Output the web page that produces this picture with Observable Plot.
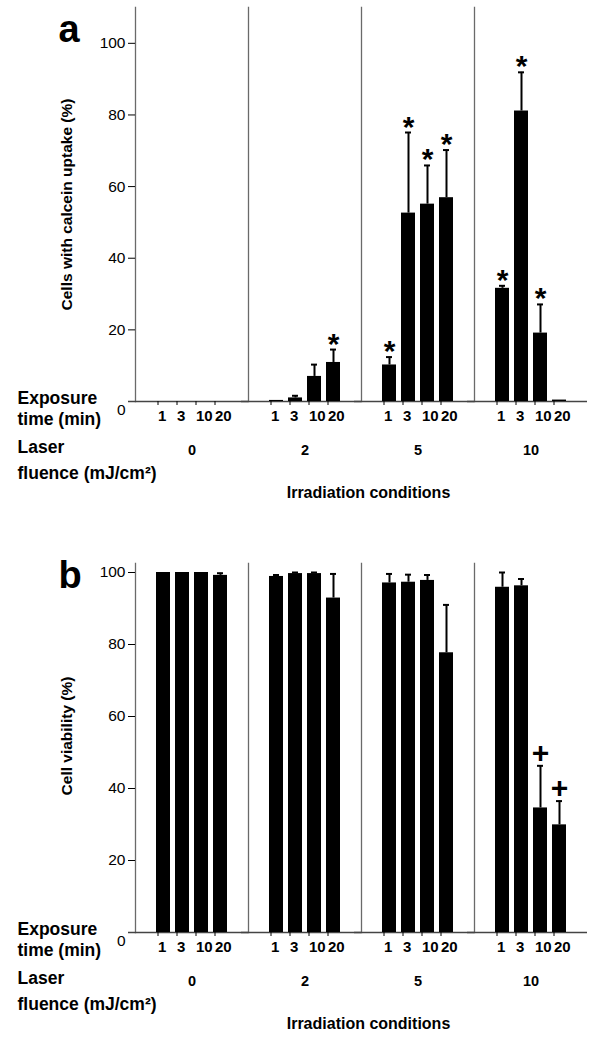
<!DOCTYPE html>
<html>
<head>
<meta charset="utf-8">
<script src="https://cdn.jsdelivr.net/npm/d3@7"></script>
<script src="https://cdn.jsdelivr.net/npm/@observablehq/plot@0.6"></script>
<style>
  body { margin: 0; background: #fff; }
  #chart svg { display: block; }
</style>
</head>
<body>
<div id="chart"></div>
<script>
// ---- data ----
const fluences = ["0", "2", "5", "10"];          // laser fluence (mJ/cm2)
const times = ["1", "3", "10", "20"];            // exposure time (min)
const yTicks = [20, 40, 60, 80, 100];

// panel a: cells with calcein uptake (%)
const uptakeMean   = [0, 0, 0, 0,   0.3, 1.0, 7.0, 10.9,   10.2, 52.6, 55.1, 56.9,   31.6, 81.1, 19.1, 0.4];
const uptakeErrTop = [0, 0, 0, 0,   0.3, 1.6, 10.3, 14.5,  12.4, 75.1, 65.9, 70.2,   32.3, 91.9, 27.1, 0.4];
const uptakeSig    = ["", "", "", "", "", "", "", "*", "*", "*", "*", "*", "*", "*", "*", ""];

// panel b: cell viability (%)
const viabilityMean   = [100, 100, 100, 99.2,  98.9, 99.7, 99.7, 92.9,  97.1, 97.3, 97.8, 77.7,  95.9, 96.3, 34.6, 29.9];
const viabilityErrTop = [100, 100, 100, 99.8,  99.3, 100, 100, 99.6,    99.6, 99.4, 99.3, 91.0,  100, 98.2, 46.3, 36.5];
const viabilitySig    = ["", "", "", "", "", "", "", "", "", "", "", "", "", "", "+", "+"];

const font = "'Liberation Sans', Arial, Helvetica, sans-serif";

function rowsFrom(means, tops, sig) {
  return means.map((v, i) => ({
    fluence: fluences[Math.floor(i / 4)],
    time: times[i % 4],
    value: v,
    top: tops[i],
    sig: sig[i]
  }));
}

function panel({rows, yMax, height, marginTop, marginBottom, yLabel, titleDy, letter, letterDy, sigSize, sigDy}) {
  const first = [{fluence: fluences[0]}];
  const mid = [{fluence: fluences[2]}];
  const err = rows.filter(d => d.top > d.value);
  return Plot.plot({
    width: 590,
    height,
    marginTop,
    marginBottom,
    marginLeft: 135,
    marginRight: 3,
    style: {fontFamily: font, background: "#fff", color: "#000", overflow: "visible"},
    fx: {domain: fluences, padding: 0, axis: null},
    x: {domain: times, paddingInner: 0.237, paddingOuter: 1.09},
    y: {domain: [0, yMax]},
    marks: [
      Plot.frame({anchor: "left", stroke: "#6a6a6a", strokeWidth: 1.3}),
      Plot.ruleY([0], {stroke: "#444", strokeWidth: 1.3, insetLeft: -7}),
      Plot.barY(rows, {fx: "fluence", x: "time", y: "value", fill: "#000"}),
      Plot.ruleX(err, {fx: "fluence", x: "time", y1: "value", y2: "top", stroke: "#000", strokeWidth: 2}),
      Plot.tickY(err, {fx: "fluence", x: "time", y: "top", stroke: "#000", strokeWidth: 2, insetLeft: 4, insetRight: 4}),
      Plot.text(rows.filter(d => d.sig), {fx: "fluence", x: "time", y: "top", text: "sig",
        lineAnchor: "bottom", dy: sigDy, fontSize: sigSize, fontWeight: "bold"}),
      Plot.axisY({ticks: yTicks, tickSize: 7, tickPadding: 3, fontSize: 15.5, label: null}),
      Plot.axisY({ticks: [0], tickSize: 0, tickPadding: 10, dy: 9, fontSize: 15.5, label: null}),
      Plot.axisX({tickSize: 4, tickPadding: 5, fontSize: 15, fontWeight: "bold", textAnchor: "start", dx: -5.5, label: null}),
      Plot.text(fluences, {fx: d => d, text: d => d, frameAnchor: "bottom", lineAnchor: "bottom",
        dy: 53, fontSize: 14.5, fontWeight: "bold"}),
      // y-axis title
      Plot.text(first, {fx: "fluence", text: () => yLabel, frameAnchor: "left", textAnchor: "middle", rotate: -90,
        dx: -68, dy: titleDy, fontSize: 15.5, fontWeight: "bold"}),
      // panel letter
      Plot.text(first, {fx: "fluence", text: () => letter, frameAnchor: "top-left", textAnchor: "start",
        lineAnchor: "bottom", dx: -77, dy: letterDy, fontSize: 38, fontWeight: "bold"}),
      // row labels
      Plot.text(first, {fx: "fluence", text: () => "Exposure", frameAnchor: "bottom-left", textAnchor: "start",
        lineAnchor: "bottom", dx: -118, dy: 2, fontSize: 17.5, fontWeight: "bold"}),
      Plot.text(first, {fx: "fluence", text: () => "time (min)", frameAnchor: "bottom-left", textAnchor: "start",
        lineAnchor: "bottom", dx: -118, dy: 23, fontSize: 17.5, fontWeight: "bold"}),
      Plot.text(first, {fx: "fluence", text: () => "Laser", frameAnchor: "bottom-left", textAnchor: "start",
        lineAnchor: "bottom", dx: -118, dy: 51, fontSize: 17.5, fontWeight: "bold"}),
      Plot.text(first, {fx: "fluence", text: () => "fluence (mJ/cm²)", frameAnchor: "bottom-left", textAnchor: "start",
        lineAnchor: "bottom", dx: -118, dy: 77, fontSize: 17.5, fontWeight: "bold"}),
      Plot.text(mid, {fx: "fluence", text: () => "Irradiation conditions", frameAnchor: "bottom-left",
        textAnchor: "middle", lineAnchor: "bottom", dx: 7, dy: 96, fontSize: 16, fontWeight: "bold"})
    ]
  });
}

const chart = document.getElementById("chart");
chart.append(panel({
  rows: rowsFrom(uptakeMean, uptakeErrTop, uptakeSig),
  yMax: 110, height: 515, marginTop: 7, marginBottom: 114,
  yLabel: "Cells with calcein uptake (%)", titleDy: 0, letter: "a", letterDy: 34,
  sigSize: 30, sigDy: 4
}));
chart.append(panel({
  rows: rowsFrom(viabilityMean, viabilityErrTop, viabilitySig),
  yMax: 102.5, height: 535, marginTop: 48, marginBottom: 118,
  yLabel: "Cell viability (%)", titleDy: -12, letter: "b", letterDy: 24,
  sigSize: 30, sigDy: -3
}));
</script>
</body>
</html>
